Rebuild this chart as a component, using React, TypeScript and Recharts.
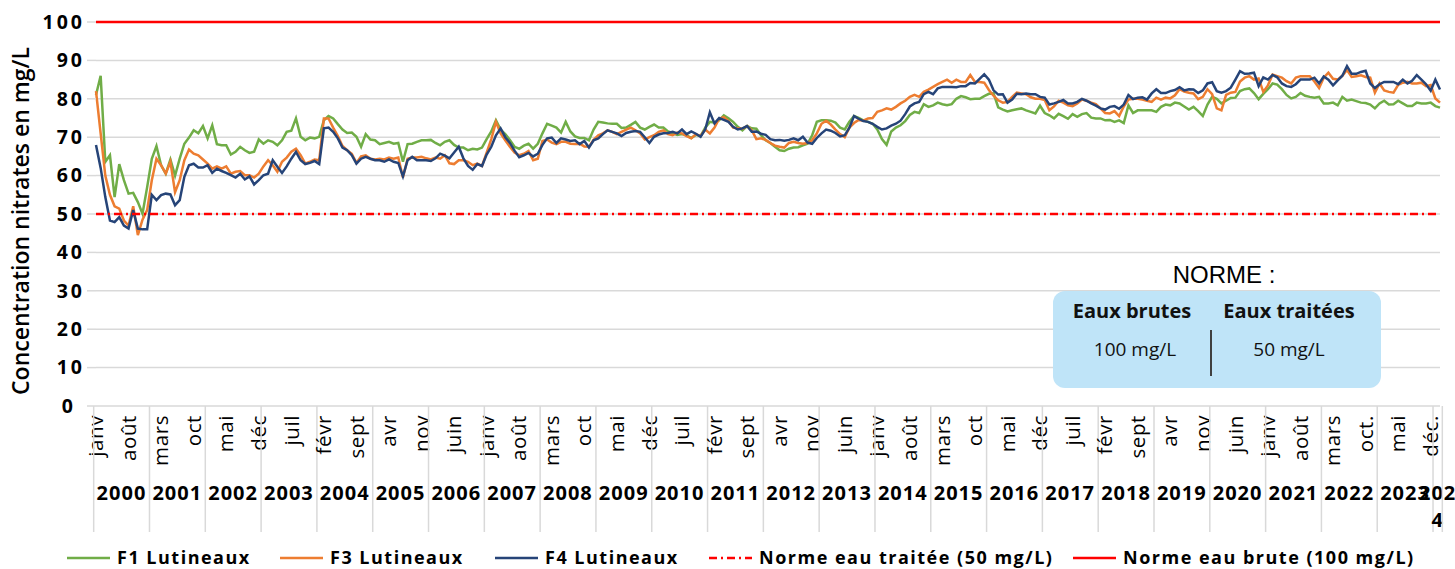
import React from 'react';
import { LineChart, Line, XAxis, YAxis, CartesianGrid } from 'recharts';

// monthly samples, janv 2000 -> févr 2024
const years = ['2000', '2001', '2002', '2003', '2004', '2005', '2006', '2007', '2008', '2009', '2010', '2011', '2012',
  '2013', '2014', '2015', '2016', '2017', '2018', '2019', '2020', '2021', '2022', '2023', '2024'];

// one label every 7 months
const monthTicks = ['janv', 'août', 'mars', 'oct', 'mai', 'déc', 'juil', 'févr', 'sept', 'avr', 'nov', 'juin',
  'janv', 'août', 'mars', 'oct', 'mai', 'déc', 'juil', 'févr', 'sept', 'avr', 'nov', 'juin',
  'janv', 'août', 'mars', 'oct', 'mai', 'déc', 'juil', 'févr', 'sept', 'avr', 'nov', 'juin',
  'janv', 'août', 'mars', 'oct.', 'mai', 'déc.'];

const f1 = [
  81, 86, 63.6, 65.3, 54.4, 63, 58.8, 55.3, 55.5, 53.1, 50.1, 57, 64.4, 67.7, 62.7, 60.5, 64.2, 60, 64.4, 68.3, 69.9, 71.8, 71, 72.9, 69.7, 73.1, 68.2, 67.9, 67.9, 65.5, 66.2, 67.5, 66.6, 65.9,
  66.2, 69.4, 68.3, 69.2, 68.8, 67.9, 69.2, 71.4, 71.7, 74.9, 70.1, 69.2, 69.9, 69.7, 70.1, 74.4, 75.5, 74.9, 73.4, 72, 71.1, 71.2, 70.1, 67.5, 70.8, 69.4, 69.2, 68.2, 68.5, 68.8, 68.3, 68.5, 63.6, 68.2, 68.3, 68.8, 69.2,
  69.2, 69.3, 68.5, 67.9, 68.8, 69.2, 68, 67.3, 67.3, 66.6, 67, 66.8, 67.3, 69.5, 71.5, 74.4, 72, 70.8, 69.3, 67.5, 67, 67.8, 68.3, 67, 68.3, 71, 73.5, 73, 72.5, 71.2, 74, 71.5, 70.2, 69.8, 69.8, 69.2,
  72, 74, 73.8, 73.6, 73.5, 73.5, 72.4, 72.5, 73.2, 74, 72.5, 72, 72.7, 73.3, 72.5, 72.5, 71.5, 71.1, 70.6, 70.8, 70.5, 69.8, 70.6, 70.3, 72.5, 74, 73.8, 74.4, 75.7, 74.9, 74, 72.7, 71.8, 72.9, 72.3,
  72.2, 70.5, 69.2, 68.5, 67.5, 66.6, 66.4, 67, 67.3, 67.4, 67.9, 68.3, 70.5, 74, 74.4, 74.4, 74.3, 73.8, 72.5, 72, 74, 75.5, 75, 74.4, 74, 73.5, 72, 69.5, 68, 71.5, 72.5, 73.1, 74.2, 75.8, 76.6, 76.3,
  78.6, 77.9, 78.3, 79, 78.6, 78.3, 78.6, 80, 80.7, 80.4, 79.9, 80, 80, 80.7, 81.3, 81.4, 77.8, 77.2, 76.7, 77, 77.3, 77.5, 77, 76.6, 76.2, 78.2, 76.3, 75.7, 74.9, 76.1, 75.5, 74.8, 76, 75.3, 76,
  76.3, 75.1, 74.9, 74.9, 74.4, 74.5, 74, 74.4, 73.7, 78.3, 76.3, 77, 77, 77, 77, 76.6, 77.9, 78.5, 78.3, 79, 78.8, 78, 77.2, 77.9, 76.8, 75.5, 78.5, 80.5, 80, 78.8, 79.5, 80.2, 80.3, 82, 82.5,
  82.7, 81.5, 79.9, 81.3, 82.5, 84, 83.7, 82.5, 81, 80.1, 80.5, 81.5, 80.8, 80.5, 80.3, 80.5, 78.8, 78.8, 79, 78.3, 80.5, 79.5, 79.8, 79.4, 79, 78.9, 78.5, 77.5, 78.8, 79.5, 78.5, 78.6, 79.5, 78.8, 78.1, 78.1, 79, 78.8, 78.8, 79, 78.1, 77.7,
];

const f3 = [
  82, 71, 60, 55, 52, 51.4, 48.3, 47, 52, 44.5, 48.5, 51, 58.8, 64.4, 62.7, 60.5, 63.6, 55.7, 58.8, 64, 66.8, 65.7, 65.3, 64.2, 63.1, 61.8, 62.4, 61.8, 62.4, 60.5, 61, 61.2, 60.1, 60.1,
  59.5, 60.5, 62.4, 64, 62.7, 61, 63.6, 64.7, 66.2, 67, 65.3, 63.1, 63.6, 64.2, 64, 74.9, 74.9, 72.5, 70.3, 67.7, 66.6, 65.7, 63.3, 65, 65.3, 64.4, 64.2, 64.4, 64.2, 64.7, 64.4, 64.7, 59.5, 64.4, 64.7, 64.7, 64.9,
  64.5, 64.2, 64.7, 64.4, 65.3, 63.2, 63, 64, 64, 63.6, 62.7, 63.1, 62.5, 66, 69.5, 74, 71, 69.2, 67.5, 66, 65.3, 65.7, 66.4, 64, 64.4, 69, 69.4, 68.6, 68.2, 68.8, 68.8, 68.3, 68.2, 68.3, 67.6, 67.5,
  69.3, 70.5, 71, 71.8, 71.4, 70.8, 71.4, 72, 72.5, 71.8, 71, 69.4, 70, 70.5, 71.4, 71.8, 70.8, 70.5, 71.2, 71, 70.3, 69.7, 70.8, 70.3, 72, 71, 72.5, 74.8, 75.2, 74.2, 72.5, 72.3, 72.2, 72.9, 71.8,
  69.5, 69.7, 69.3, 68.5, 67.8, 67.5, 67.3, 68.5, 68.8, 68.5, 68.3, 68.5, 69.2, 71, 73.5, 74.3, 73.3, 72, 70.8, 70, 72.5, 73.7, 74.5, 74.3, 74.9, 75, 76.6, 77, 77.5, 77.2, 77.9, 78.8, 79.5, 80.5, 81, 80.5,
  81.8, 82.4, 83.1, 83.8, 84.4, 85, 84.2, 85, 84.4, 84.4, 86.2, 84.4, 84.4, 84.2, 82.3, 80.8, 79.6, 79, 79.2, 80.5, 81.6, 81.4, 81.2, 80.4, 80, 80, 79.7, 77, 78, 79.5, 79, 78.3, 78.1, 78.8, 79.8,
  79.5, 79, 78.6, 77.5, 76.3, 76.2, 76.8, 75.5, 78, 79.8, 80, 80, 79.8, 79.5, 79.2, 80.3, 79.8, 80.3, 80.1, 80.9, 82.5, 81.9, 81.6, 81.4, 79.9, 80.5, 82.5, 81.2, 77.5, 77, 81, 81.6, 81.8, 84.5, 85.5,
  85.9, 85, 85.3, 81.8, 83.5, 86.3, 85.9, 85.5, 84.6, 84, 85.5, 85.9, 85.9, 85.9, 84.5, 82.8, 85.5, 86.8, 85.2, 85, 86, 87.5, 85.7, 85.9, 86.1, 85.7, 85.5, 81.6, 84, 82.2, 81.8, 81.6, 83.6, 84.2, 84.4, 84, 84, 84.2, 83.3, 83.6, 80.1, 79,
];

const f4 = [
  68, 62, 54.4, 48.3, 47.9, 49.2, 47, 46.2, 51, 46.2, 46, 46, 55, 53.6, 54.9, 55.3, 55.1, 52.3, 53.6, 59.7, 62.7, 63.1, 62.1, 62.1, 62.7, 60.7, 61.8, 61.2, 60.7, 60.1, 59.5, 60.5, 59, 59.8,
  57.7, 58.8, 60.1, 60.5, 64, 62.3, 60.7, 62.4, 64.4, 66.2, 64, 63, 63.3, 63.8, 63, 72.3, 72.5, 71.4, 69.7, 67.3, 66.6, 65.3, 63.1, 64.4, 64.9, 64.4, 64, 64, 63.6, 64.2, 63.6, 63.3, 59.8, 64, 64.9, 64, 64,
  64, 63.8, 64.5, 65.7, 65.2, 64.5, 66, 67.5, 64.5, 62.5, 61.5, 63, 62.5, 65.5, 67.5, 70.5, 72.3, 70, 68.5, 66.5, 64.8, 65.3, 65.9, 65, 65.7, 68, 69.7, 69.9, 68.5, 69.7, 69.4, 69, 69.2, 68.2, 69, 67.3,
  69.2, 69.7, 70.8, 71.8, 71.4, 71, 70.3, 71.1, 71.4, 71.6, 71.4, 70, 68.5, 70.1, 70.7, 71, 71.1, 71.4, 71, 72, 70.8, 71.5, 70.9, 70.1, 72, 76.5, 73.6, 75, 74.5, 74, 72.7, 72, 72.3, 72.9, 71.4,
  71.5, 70.9, 70.6, 69.5, 69.2, 69.3, 69.1, 69.3, 69.7, 69.2, 70.1, 68.6, 68.3, 69.8, 71, 72, 71.7, 71.1, 70.2, 70.5, 72.5, 75.5, 74.8, 74.2, 74, 73.5, 72.7, 72, 72.3, 73, 73.5, 74.3, 76, 78, 78.8, 79.2,
  81.2, 81.8, 81.2, 82.7, 83.1, 83.1, 83.1, 83, 83.3, 83.3, 84.1, 84, 85.2, 86.4, 85, 82.2, 81.1, 81.2, 79, 79.8, 81.3, 81.2, 81.4, 81.2, 81.2, 80.5, 80.3, 78.5, 78.8, 79.2, 79.7, 78.8, 78.8, 79.2, 80,
  79.5, 78.8, 78.2, 77.5, 77.2, 77.9, 78.1, 77.4, 78.5, 81, 79.9, 80.3, 80.4, 79.8, 81.4, 82.5, 81.5, 81.5, 82, 82.3, 83, 82.2, 82.5, 82.4, 81.5, 82.2, 84, 84.3, 82, 81.6, 82, 82.9, 85, 87.2, 86.5,
  86.6, 86.8, 83.3, 85.6, 85, 86.2, 85.6, 84, 83.3, 83.1, 83.8, 85, 85, 85, 85.5, 84, 85.8, 85, 83.5, 84.8, 86, 88.5, 86.5, 86.5, 87, 87.3, 84, 82.8, 83.8, 84.4, 84.4, 84.4, 83.8, 85, 84, 84.7, 86.2, 85, 83.8, 82.1, 85, 82.4,
];

const normeTraitee = 50;
const normeBrute = 100;
const yTicks = [0, 10, 20, 30, 40, 50, 60, 70, 80, 90, 100];

const data = f1.map((v, i) => ({ i, f1: v, f3: f3[i], f4: f4[i], n50: normeTraitee, n100: normeBrute }));

const series = [
  { key: 'f1', name: 'F1 Lutineaux', color: '#70AD47', dash: undefined },
  { key: 'f3', name: 'F3 Lutineaux', color: '#ED7D31', dash: undefined },
  { key: 'f4', name: 'F4 Lutineaux', color: '#264478', dash: undefined },
  { key: 'n50', name: 'Norme eau traitée (50 mg/L)', color: '#FF0000', dash: '8 4 2 4' },
  { key: 'n100', name: 'Norme eau brute (100 mg/L)', color: '#FF0000', dash: undefined },
];

const W = 1455;
const H = 569;
const margin = { top: 22, right: 15, bottom: 33, left: 10 };
const yAxisWidth = 86;
const xAxisHeight = 130;
const band = (W - margin.left - margin.right - yAxisWidth) / data.length;
const legendX = [67, 280, 495, 709, 1073];
const FONT = '"Open Sans", sans-serif';
const GRID = '#D9D9D9';

const XTick = (props: any) => {
  const { x, y, payload } = props;
  const i = Number(payload.value);
  const left = x - band / 2;
  const out: React.ReactNode[] = [];
  if (i % 7 === 0) {
    out.push(
      <text key="m" transform={`translate(${x},${y + 9}) rotate(-90)`} textAnchor="end" dy="0.35em"
        fontFamily={FONT} fontSize={20.5} letterSpacing={0.6} fill="#000">
        {monthTicks[i / 7]}
      </text>
    );
  }
  if (i % 12 === 0) {
    const months = Math.min(12, data.length - i);
    const cx = left + (months * band) / 2;
    const label = years[i / 12];
    out.push(<line key="s" x1={left} x2={left} y1={y} y2={y + 126} stroke={GRID} strokeWidth={1.5} />);
    if (months < 12) {
      out.push(
        <text key="y" x={cx} y={y + 94} textAnchor="middle" fontFamily={FONT} fontWeight={700} fontSize={20} letterSpacing={1} fill="#000">
          <tspan x={cx}>{label.slice(0, 3)}</tspan>
          <tspan x={cx} dy={27}>{label.slice(3)}</tspan>
        </text>
      );
    } else {
      out.push(
        <text key="y" x={cx} y={y + 94} textAnchor="middle" fontFamily={FONT} fontWeight={700} fontSize={20} letterSpacing={1} fill="#000">
          {label}
        </text>
      );
    }
  }
  if (i === data.length - 1) {
    out.push(<line key="e" x1={x + band / 2} x2={x + band / 2} y1={y} y2={y + 126} stroke={GRID} strokeWidth={1.5} />);
  }
  return <g>{out}</g>;
};

const YTick = (props: any) => {
  const { x, y, payload } = props;
  const shift = payload.value === 0 ? -9 : 0;
  return (
    <text x={x + 3 + shift} y={y} dy="0.35em" textAnchor="end" fontFamily={FONT} fontWeight={700} fontSize={19.5} letterSpacing={3} fill="#000">
      {payload.value}
    </text>
  );
};

const App: React.FC = () => {
  return (
    <div style={{ position: 'relative', width: W, height: H, background: '#fff' }}>
      <style>{'body{margin:0;}'}</style>
      <LineChart width={W} height={H} data={data} margin={margin}>
        <CartesianGrid vertical={false} stroke={GRID} strokeWidth={1.5} />
        <XAxis dataKey="i" type="category" interval={0} height={xAxisHeight} axisLine={false} tickLine={false}
          tickSize={0} tickMargin={0} tick={XTick} />
        <YAxis domain={[0, 100]} ticks={yTicks} interval={0} width={yAxisWidth} axisLine={false}
          tickLine={{ stroke: GRID, strokeWidth: 1.5 }} tickSize={9} tickMargin={5} tick={YTick} />
        {series.map((s) => (
          <Line key={s.key} type="linear" dataKey={s.key} name={s.name} stroke={s.color} strokeWidth={2.5}
            strokeDasharray={s.dash} dot={false} activeDot={false} isAnimationActive={false} />
        ))}
      </LineChart>

      <svg width={W} height={H} style={{ position: 'absolute', left: 0, top: 0, pointerEvents: 'none' }}>
        {/* y axis title */}
        <text transform="translate(21,221) rotate(-90)" textAnchor="middle" dy="0.35em" fontFamily={FONT}
          fontWeight={600} fontSize={23} fill="#000">
          Concentration nitrates en mg/L
        </text>

        {/* norme box */}
        <text x={1224} y={283} textAnchor="middle" fontFamily='"Liberation Sans", Arial, sans-serif' fontSize={24} fill="#000">
          NORME :
        </text>
        <rect x={1053} y={291} width={328} height={97} rx={12} fill="#BFE4F8" />
        <text x={1132} y={318} textAnchor="middle" fontFamily={FONT} fontWeight={700} fontSize={20} fill="#111">Eaux brutes</text>
        <text x={1289} y={318} textAnchor="middle" fontFamily={FONT} fontWeight={700} fontSize={20} fill="#111">Eaux traitées</text>
        <text x={1135} y={356} textAnchor="middle" fontFamily={FONT} fontSize={19} fill="#111">100 mg/L</text>
        <text x={1289} y={356} textAnchor="middle" fontFamily={FONT} fontSize={19} fill="#111">50 mg/L</text>
        <line x1={1211} x2={1211} y1={330} y2={376} stroke="#404040" strokeWidth={2} />

        {/* legend */}
        {series.map((s, k) => (
          <g key={s.key}>
            <line x1={legendX[k]} x2={legendX[k] + 43} y1={558} y2={558} stroke={s.color} strokeWidth={2.5} strokeDasharray={s.dash} />
            <text x={legendX[k] + 50} y={558} dy="0.35em" fontFamily={FONT} fontWeight={700} fontSize={18} letterSpacing={1.5} fill="#000">
              {s.name}
            </text>
          </g>
        ))}
      </svg>
    </div>
  );
};

export default App;
